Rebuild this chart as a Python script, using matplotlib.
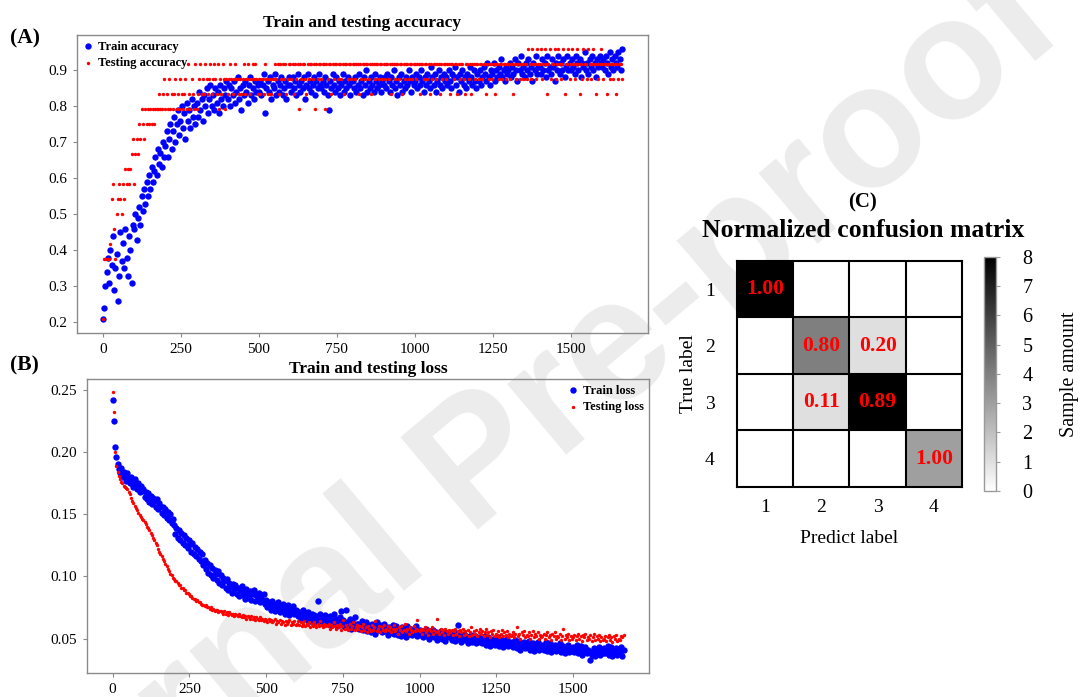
import numpy as np
import matplotlib
matplotlib.use("Agg")
import matplotlib.pyplot as plt

plt.rcParams['font.family'] = ['Liberation Serif', 'DejaVu Serif']

# ---- data (one sample every 4 epochs, 0..1664) ----
# train accuracy in percent
train_acc_pct = [
    21, 24, 30, 34, 38, 31, 40, 36, 44, 29, 35, 39, 26, 33, 45, 37, 42, 35, 46, 38, 33, 44, 40, 31, 47,
    46, 50, 43, 49, 52, 47, 55, 51, 57, 53, 59, 55, 61, 57, 63, 59, 62, 66, 61, 68, 64, 67, 63, 70, 66,
    69, 73, 66, 71, 75, 68, 73, 77, 70, 75, 79, 72, 76, 80, 74, 78, 71, 81, 76, 79, 74, 82, 77, 80, 75,
    81, 77, 84, 79, 82, 76, 83, 80, 85, 78, 82, 86, 80, 83, 79, 85, 81, 84, 78, 86, 82, 80, 85, 83, 87,
    82, 86, 80, 85, 83, 87, 81, 84, 88, 82, 85, 79, 86, 83, 87, 84, 81, 86, 88, 83, 85, 82, 87, 84, 86,
    84, 87, 83, 86, 89, 78, 85, 87, 84, 88, 82, 86, 85, 89, 83, 87, 84, 86, 88, 83, 85, 87, 82, 86, 88,
    86, 84, 88, 85, 87, 83, 89, 86, 84, 87, 85, 88, 82, 86, 89, 85, 87, 84, 86, 88, 83, 87, 85, 89, 86,
    85, 87, 84, 88, 86, 83, 79, 87, 85, 89, 86, 84, 88, 85, 87, 83, 86, 89, 84, 87, 85, 88, 86, 83, 87,
    87, 85, 88, 84, 86, 89, 85, 87, 83, 88, 86, 90, 84, 87, 85, 88, 86, 84, 89, 87, 85, 86, 88, 84, 87,
    86, 88, 85, 89, 87, 84, 88, 86, 90, 85, 87, 83, 88, 86, 89, 84, 87, 85, 88, 86, 90, 87, 84, 88, 86,
    87, 89, 85, 88, 86, 90, 87, 84, 88, 86, 89, 87, 85, 91, 88, 86, 89, 84, 87, 90, 86, 88, 85, 89, 87,
    88, 86, 90, 87, 85, 89, 88, 91, 86, 88, 84, 89, 87, 90, 86, 88, 85, 89, 87, 91, 88, 86, 90, 87, 85,
    89, 87, 90, 86, 88, 91, 89, 87, 92, 88, 86, 90, 89, 92, 87, 90, 88, 91, 89, 93, 88, 90, 87, 91, 89,
    90, 92, 88, 91, 89, 93, 90, 87, 92, 90, 94, 89, 91, 88, 92, 90, 93, 89, 91, 87, 92, 90, 94, 89, 91,
    91, 89, 93, 90, 92, 88, 94, 90, 91, 89, 93, 91, 87, 92, 90, 94, 89, 92, 90, 93, 88, 91, 94, 90, 92,
    90, 93, 91, 89, 94, 92, 90, 93, 88, 92, 91, 95, 90, 92, 89, 93, 91, 94, 90, 92, 88, 93, 91, 94, 92,
    91, 93, 90, 94, 92, 89, 95, 91, 93, 90, 94, 92, 91, 95, 93, 90, 96,
]
# testing accuracy as correctly classified test samples (out of 24)
test_hits = [
    5, 9, 9, 9, 9, 9, 10, 13, 14, 11, 9, 12, 13, 14, 13, 12, 14, 13, 15, 14, 15, 14, 15, 16, 17,
    14, 16, 17, 16, 18, 17, 19, 18, 17, 19, 18, 19, 18, 19, 18, 19, 18, 19, 19, 19, 20, 19, 19, 20, 21,
    19, 20, 19, 21, 19, 20, 19, 20, 21, 19, 20, 19, 21, 20, 19, 20, 21, 19, 22, 20, 19, 21, 20, 19, 22,
    19, 20, 21, 22, 20, 21, 20, 22, 21, 20, 21, 22, 20, 21, 22, 21, 20, 22, 19, 21, 20, 22, 21, 19, 21,
    20, 21, 22, 21, 20, 21, 22, 21, 21, 20, 21, 20, 21, 22, 20, 21, 22, 21, 20, 21, 22, 21, 22, 21, 20,
    21, 20, 21, 21, 20, 22, 21, 20, 21, 21, 20, 21, 21, 22, 21, 22, 20, 22, 21, 22, 21, 22, 20, 21, 22,
    22, 21, 22, 20, 22, 21, 22, 19, 22, 21, 22, 22, 21, 20, 22, 21, 22, 22, 21, 22, 19, 22, 21, 22, 22,
    21, 22, 22, 19, 22, 21, 22, 22, 20, 22, 21, 22, 22, 21, 22, 22, 21, 22, 20, 22, 22, 21, 22, 22, 21,
    22, 22, 21, 22, 22, 20, 22, 21, 22, 22, 21, 22, 22, 21, 22, 20, 22, 22, 21, 22, 22, 21, 22, 22, 21,
    22, 21, 22, 22, 21, 22, 20, 22, 22, 21, 22, 22, 21, 22, 22, 20, 22, 21, 22, 22, 21, 22, 22, 21, 22,
    22, 21, 22, 22, 20, 22, 22, 21, 22, 22, 21, 22, 20, 22, 21, 22, 22, 21, 22, 22, 20, 22, 21, 22, 22,
    21, 22, 22, 20, 22, 22, 21, 22, 22, 20, 22, 21, 22, 22, 21, 20, 22, 22, 21, 22, 20, 22, 22, 21, 22,
    22, 21, 22, 22, 21, 22, 22, 20, 22, 21, 22, 22, 21, 22, 20, 22, 22, 21, 22, 22, 21, 22, 22, 21, 22,
    22, 21, 22, 22, 20, 22, 21, 22, 22, 21, 22, 22, 21, 22, 22, 21, 23, 22, 21, 23, 22, 22, 21, 23, 22,
    22, 23, 21, 22, 23, 22, 20, 22, 23, 21, 22, 22, 23, 21, 22, 23, 22, 21, 22, 23, 20, 22, 22, 23, 21,
    22, 23, 22, 21, 22, 23, 22, 20, 22, 21, 23, 22, 22, 21, 23, 22, 21, 22, 23, 22, 20, 22, 21, 22, 23,
    22, 21, 22, 22, 20, 22, 21, 22, 22, 21, 22, 20, 22, 21, 22, 22, 21,
]
n_test = 24
# losses in thousandths
train_loss_milli = [
    242, 225, 204, 196, 190, 186, 183, 187, 180, 184, 181, 177, 183, 179, 175, 180, 176, 172, 178, 174, 170, 175, 168, 173, 169,
    170, 164, 168, 162, 167, 160, 165, 158, 163, 161, 156, 162, 154, 159, 157, 151, 156, 149, 154, 147, 152, 145, 150, 143, 146,
    141, 134, 139, 131, 137, 129, 135, 127, 133, 125, 131, 123, 129, 126, 120, 127, 118, 124, 116, 122, 114, 120, 112, 118, 109,
    113, 106, 111, 103, 109, 101, 107, 99, 105, 102, 97, 104, 95, 101, 93, 99, 96, 91, 98, 89, 95, 92, 87, 94, 90,
    93, 86, 91, 84, 89, 92, 85, 88, 82, 90, 86, 83, 88, 81, 86, 89, 80, 85, 82, 87, 79, 84, 81, 86, 78,
    81, 75, 79, 77, 73, 80, 76, 72, 78, 74, 79, 71, 76, 73, 78, 70, 75, 72, 77, 69, 74, 71, 76, 70, 73,
    72, 68, 71, 66, 70, 73, 67, 69, 65, 71, 68, 64, 70, 66, 69, 63, 68, 80, 65, 70, 64, 67, 62, 69, 65,
    66, 63, 68, 61, 65, 70, 62, 66, 60, 64, 67, 72, 61, 65, 59, 73, 63, 60, 66, 58, 64, 61, 67, 59, 62,
    62, 58, 61, 64, 57, 60, 63, 56, 61, 59, 55, 62, 58, 60, 54, 63, 57, 59, 61, 55, 58, 62, 56, 59, 53,
    59, 55, 58, 61, 54, 57, 60, 53, 58, 56, 52, 59, 55, 57, 51, 60, 54, 56, 58, 53, 57, 55, 60, 52, 56,
    57, 53, 56, 51, 55, 58, 52, 54, 50, 56, 53, 57, 51, 55, 49, 54, 52, 56, 50, 53, 55, 48, 52, 54, 51,
    53, 49, 52, 55, 48, 51, 61, 50, 53, 47, 51, 54, 49, 52, 46, 51, 48, 53, 47, 50, 52, 46, 49, 51, 47,
    50, 46, 49, 52, 45, 48, 51, 44, 49, 47, 50, 45, 48, 46, 51, 44, 47, 49, 43, 48, 46, 50, 44, 47, 45,
    47, 43, 46, 49, 42, 45, 48, 41, 46, 44, 47, 42, 45, 43, 48, 41, 44, 46, 40, 45, 43, 47, 41, 44, 42,
    45, 41, 44, 47, 40, 43, 46, 39, 44, 42, 45, 40, 43, 41, 46, 39, 42, 44, 38, 43, 41, 45, 39, 42, 40,
    43, 39, 42, 45, 38, 41, 44, 37, 42, 40, 43, 38, 41, 39, 33, 37, 40, 42, 36, 41, 39, 43, 37, 40, 38,
    42, 38, 41, 44, 37, 40, 43, 36, 41, 39, 42, 37, 40, 38, 43, 36, 41,
]
test_loss_milli = [
    248, 232, 200, 189, 184, 181, 178, 176, 175, 173, 172, 171, 170, 168, 166, 163, 161, 159, 157, 155, 153, 151, 149, 148, 146,
    145, 144, 142, 140, 139, 137, 135, 133, 131, 129, 127, 125, 122, 120, 118, 116, 114, 112, 110, 108, 106, 104, 102, 101, 99,
    98, 96, 96, 95, 93, 93, 91, 91, 89, 89, 87, 87, 86, 84, 84, 83, 82, 82, 80, 81, 79, 79, 78, 77, 77,
    76, 77, 75, 75, 74, 75, 73, 74, 72, 73, 73, 71, 72, 72, 71, 70, 72, 70, 71, 69, 71, 70, 69, 70, 68,
    70, 69, 68, 70, 68, 67, 69, 67, 68, 66, 68, 67, 66, 68, 66, 67, 65, 67, 66, 65, 67, 65, 66, 64, 66,
    65, 63, 66, 64, 65, 63, 64, 66, 62, 64, 63, 65, 62, 64, 63, 61, 64, 62, 63, 65, 61, 63, 62, 64, 61,
    62, 64, 61, 63, 60, 62, 64, 60, 62, 61, 63, 59, 62, 60, 63, 61, 59, 62, 60, 64, 61, 59, 62, 60, 61,
    60, 62, 58, 61, 59, 63, 60, 58, 61, 59, 62, 57, 60, 65, 58, 61, 59, 57, 62, 58, 60, 63, 57, 59, 61,
    58, 60, 56, 59, 62, 57, 59, 55, 60, 58, 56, 61, 57, 59, 64, 56, 58, 60, 55, 59, 57, 61, 56, 58, 60,
    57, 59, 55, 58, 61, 56, 58, 54, 59, 57, 60, 55, 57, 62, 56, 58, 54, 59, 57, 55, 60, 56, 58, 65, 57,
    56, 58, 54, 57, 59, 55, 57, 53, 58, 56, 59, 54, 57, 55, 66, 56, 54, 58, 55, 57, 53, 58, 56, 54, 57,
    55, 57, 53, 56, 58, 54, 56, 52, 57, 55, 58, 53, 56, 54, 57, 52, 55, 59, 53, 56, 54, 57, 52, 55, 58,
    54, 56, 52, 55, 58, 53, 55, 51, 56, 54, 57, 52, 54, 53, 56, 51, 54, 57, 52, 55, 53, 56, 51, 54, 52,
    53, 55, 51, 54, 59, 52, 54, 50, 55, 53, 56, 51, 53, 52, 55, 50, 53, 56, 51, 54, 52, 55, 50, 53, 51,
    52, 54, 50, 53, 55, 51, 53, 49, 54, 52, 55, 50, 52, 51, 54, 49, 52, 58, 50, 53, 51, 54, 49, 52, 50,
    51, 53, 49, 52, 54, 50, 52, 48, 53, 51, 54, 49, 51, 50, 53, 48, 51, 54, 49, 52, 50, 53, 48, 51, 49,
    50, 52, 48, 51, 53, 49, 51, 47, 52, 50, 53, 48, 50, 49, 52, 51, 53,
]

# confusion matrix (sample counts), rows = true label, cols = predicted
cm_counts = [
    [8, 0, 0, 0],
    [0, 4, 1, 0],
    [0, 1, 8, 0],
    [0, 0, 0, 3],
]
class_names = ['1', '2', '3', '4']

epochs = np.arange(len(train_acc_pct)) * 4
train_acc = np.array(train_acc_pct) / 100.0
test_acc = np.array(test_hits) / n_test
train_loss = np.array(train_loss_milli) / 1000.0
test_loss = np.array(test_loss_milli) / 1000.0

cm = np.array(cm_counts, dtype=float)
cm_norm = cm / cm.sum(axis=1, keepdims=True)

fig = plt.figure(figsize=(10.8, 6.97), dpi=100)

# journal watermark behind everything
fig.text(0.445, 0.33, 'Journal Pre-proof', rotation=40, fontsize=125,
         fontweight='bold', color='#ececec', ha='center', va='center',
         rotation_mode='anchor', family=['Liberation Sans', 'DejaVu Sans'], zorder=-5)

spine_col = '#8a8a8a'


def style_axes(ax):
    ax.patch.set_alpha(0)
    for sp in ax.spines.values():
        sp.set_color(spine_col)
        sp.set_linewidth(1.0)
    ax.tick_params(direction='out', length=3, width=0.8, color=spine_col,
                   labelsize=11, pad=4)


leg_kw = dict(frameon=False, prop={'weight': 'bold', 'size': 9}, handlelength=0.8,
              handletextpad=0.4, borderaxespad=0.25, labelspacing=0.35, borderpad=0.2)

# (A) accuracy
axA = fig.add_axes([0.0713, 0.5222, 0.5287, 0.4276])
style_axes(axA)
axA.scatter(epochs, train_acc, s=21, c='#0000ff', linewidths=0, label='Train accuracy')
axA.scatter(epochs, test_acc, s=6, c='#ff0000', marker='o', linewidths=0, label='Testing accuracy')
axA.set_xticks([0, 250, 500, 750, 1000, 1250, 1500])
axA.set_yticks([0.2, 0.3, 0.4, 0.5, 0.6, 0.7, 0.8, 0.9])
axA.set_title('Train and testing accuracy', fontsize=12.5, fontweight='bold', pad=6)
axA.legend(loc='upper left', **leg_kw)
fig.text(0.009, 0.945, '(A)', fontsize=15.5, fontweight='bold', va='center')

# (B) loss
axB = fig.add_axes([0.0806, 0.0344, 0.5204, 0.4218])
style_axes(axB)
axB.scatter(epochs, train_loss, s=21, c='#0000ff', linewidths=0, label='Train loss')
axB.scatter(epochs, test_loss, s=6, c='#ff0000', marker='o', linewidths=0, label='Testing loss')
axB.set_xticks([0, 250, 500, 750, 1000, 1250, 1500])
axB.set_yticks([0.05, 0.10, 0.15, 0.20, 0.25])
axB.set_title('Train and testing loss', fontsize=12.5, fontweight='bold', pad=4)
axB.legend(loc='upper right', **leg_kw)
fig.text(0.009, 0.475, '(B)', fontsize=15.5, fontweight='bold', va='center')

# (C) confusion matrix
axC = fig.add_axes([0.6824, 0.3013, 0.2083, 0.3243])
im = axC.imshow(cm, cmap='gray_r', vmin=0, vmax=8, aspect='auto', interpolation='nearest')
for k in [0.5, 1.5, 2.5]:
    axC.axhline(k, color='black', lw=1.5)
    axC.axvline(k, color='black', lw=1.5)
for sp in axC.spines.values():
    sp.set_color('black')
    sp.set_linewidth(1.5)
for i in range(cm.shape[0]):
    for j in range(cm.shape[1]):
        if cm[i, j] > 0:
            axC.text(j, i, f'{cm_norm[i, j]:.2f}', color='red', fontweight='bold',
                     fontsize=15.5, ha='center', va='center')
axC.set_xticks(range(4))
axC.set_xticklabels(class_names)
axC.set_yticks(range(4))
axC.set_yticklabels(class_names)
axC.tick_params(axis='x', length=0, labelsize=14, pad=9)
axC.tick_params(axis='y', length=0, labelsize=14, pad=16)
axC.set_xlabel('Predict label', fontsize=14, labelpad=10)
axC.set_ylabel('True label', fontsize=14, labelpad=6)
fig.text(0.799, 0.71, '(C)', fontsize=15, fontweight='bold', ha='center', va='center')
fig.text(0.799, 0.669, 'Normalized confusion matrix', fontsize=18.5, fontweight='bold',
         ha='center', va='center')

cax = fig.add_axes([0.9111, 0.2956, 0.0111, 0.3357])
cb = fig.colorbar(im, cax=cax)
cb.set_ticks(range(9))
cb.outline.set_edgecolor('#9a9a9a')
cb.outline.set_linewidth(1.0)
cax.tick_params(length=3, width=0.8, color='#9a9a9a', labelsize=14.5, pad=16)
cb.set_label('Sample amount', fontsize=14.5, labelpad=20)

fig.savefig('out.png', dpi=100)
